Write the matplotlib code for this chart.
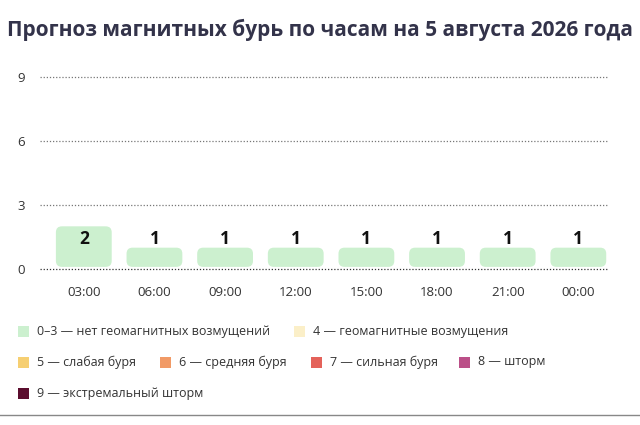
import numpy as np
import matplotlib
matplotlib.use("Agg")
import matplotlib.pyplot as plt
from matplotlib.patches import FancyBboxPatch, Rectangle

plt.rcParams['font.family'] = ['Open Sans', 'DejaVu Sans']

# data
hours = ["03:00", "06:00", "09:00", "12:00", "15:00", "18:00", "21:00", "00:00"]
kp_values = [2, 1, 1, 1, 1, 1, 1, 1]
y_ticks = [0, 3, 6, 9]

legend_labels = [
    "0–3 — нет геомагнитных возмущений",
    "4 — геомагнитные возмущения",
    "5 — слабая буря",
    "6 — средняя буря",
    "7 — сильная буря",
    "8 — шторм",
    "9 — экстремальный шторм",
]
legend_colors = ["#ccf0cf", "#fbefc8", "#f6cf72", "#f19a66", "#e4625a", "#bb4f88", "#5b0d2e"]

title = "Прогноз магнитных бурь по часам на 5 августа 2026 года"

W, H = 640, 425
fig = plt.figure(figsize=(W / 100, H / 100), dpi=100)

ax_left, ax_right, ax_bottom, ax_top = 40, 608, 269, 77
ax = fig.add_axes([ax_left / W, 1 - ax_bottom / H, (ax_right - ax_left) / W, (ax_bottom - ax_top) / H])

x = np.arange(len(hours))
xlim = (-0.62, len(hours) - 0.58)
ylim = (0, 9)
ax.set_xlim(*xlim)
ax.set_ylim(*ylim)

# pixels per data unit, to keep corner rounding circular
px_x = (ax_right - ax_left) / (xlim[1] - xlim[0])
px_y = (ax_bottom - ax_top) / (ylim[1] - ylim[0])
aspect = px_x / px_y

bar_w = 0.79
gap = 0.1
radius = 6 / px_x
for xi, v in zip(x, kp_values):
    box = FancyBboxPatch((xi - bar_w / 2, gap), bar_w, v - gap,
                         boxstyle=f"round,pad=0,rounding_size={radius}",
                         mutation_aspect=aspect,
                         facecolor=legend_colors[0], edgecolor="none", zorder=2)
    ax.add_patch(box)
    # tall bars carry the label inside, short ones above
    dy = -9 if v > 1 else 6
    ax.annotate(str(v), (xi, v), xytext=(0, dy), textcoords="offset points",
                ha="center", va="center", fontsize=12.5, fontweight="bold", color="#111111", zorder=3)

for t in y_ticks:
    ax.axhline(t, color="#333333" if t == 0 else "#777777", linestyle=(0, (1, 1.5)),
               linewidth=0.9, zorder=1, clip_on=False)

ax.set_xticks(x)
ax.set_xticklabels(hours)
ax.set_yticks(y_ticks)
ax.tick_params(axis="both", length=0, labelsize=9.5, labelcolor="#333333")
ax.tick_params(axis="x", pad=12)
ax.tick_params(axis="y", pad=11)
for lab in ax.get_yticklabels():
    lab.set_va("center_baseline")
for s in ax.spines.values():
    s.set_visible(False)

fig.text(320 / W, 1 - 30 / H, title, ha="center", va="center",
         fontsize=15, fontweight="bold", color="#33334a")

# legend
legend_pos = [(18, 331), (294, 331), (18, 362), (160, 362), (311, 362), (459, 362), (18, 393)]
for (lx, ly), lab, col in zip(legend_pos, legend_labels, legend_colors):
    fig.patches.append(Rectangle((lx / W, 1 - (ly + 5.5) / H), 11 / W, 11 / H,
                                 transform=fig.transFigure, facecolor=col, edgecolor="none"))
    fig.text((lx + 19) / W, 1 - ly / H, lab, ha="left", va="center",
             fontsize=9.0, color="#333333")

fig.add_artist(plt.Line2D([0, 1], [1 - 415 / H, 1 - 415 / H], transform=fig.transFigure,
                          color="#888888", linewidth=1))

fig.savefig("out.png", dpi=100)
